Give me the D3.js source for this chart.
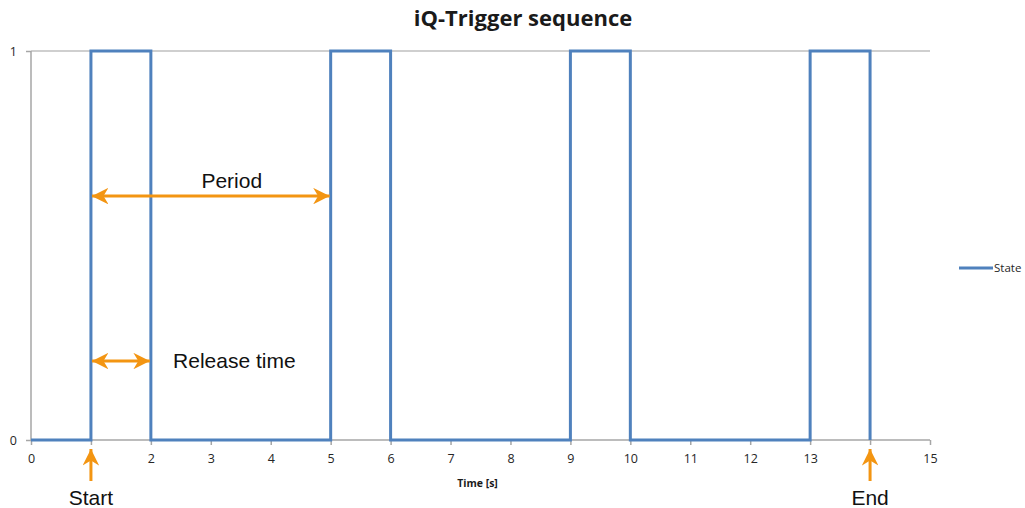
<!DOCTYPE html>
<html>
<head>
<meta charset="utf-8">
<script src="https://cdn.jsdelivr.net/npm/d3@7"></script>
<style>
  body { margin: 0; background: #fff; }
  svg { display: block; }
</style>
</head>
<body>
<div id="chart"></div>
<script>
// step series: time [s] and state
const times = [0, 1, 1, 2, 2, 5, 5, 6, 6, 9, 9, 10, 10, 13, 13, 14, 14];
const states = [0, 0, 1, 1, 0, 0, 1, 1, 0, 0, 1, 1, 0, 0, 1, 1, 0];
const xTicks = d3.range(0, 16);
const yTicks = [0, 1];
const seriesName = "State";

// orange annotations (data units)
const spanArrows = [
  { from: 1, to: 5, level: 0.627, label: "Period", labelAt: 3.35, anchor: "middle" },
  { from: 1, to: 2, level: 0.203, label: "Release time", labelAt: 2.37, anchor: "start" }
];
const markerArrows = [
  { at: 1, label: "Start" },
  { at: 14, label: "End" }
];

const W = 1025, H = 508;
const margin = { top: 51, right: 95, bottom: 68, left: 31 };
const width = W - margin.left - margin.right;
const height = H - margin.top - margin.bottom;
const orange = "#f39512";
const blue = "#4f81bd";
const axisFont = "Open Sans, sans-serif";
const noteFont = "Liberation Sans, Arial, sans-serif";

const svg = d3.select("#chart").append("svg")
  .attr("width", W).attr("height", H);

svg.append("defs").append("marker")
  .attr("id", "head")
  .attr("viewBox", "0 0 10 10")
  .attr("refX", 10).attr("refY", 5)
  .attr("markerWidth", 5.5).attr("markerHeight", 5.5)
  .attr("markerUnits", "strokeWidth")
  .attr("orient", "auto-start-reverse")
  .append("path")
  .attr("d", "M0,0 L10,5 L0,10 L3,5 Z")
  .attr("fill", orange);

const g = svg.append("g")
  .attr("transform", `translate(${margin.left},${margin.top})`);

const x = d3.scaleLinear().domain([0, 15]).range([0, width]);
const y = d3.scaleLinear().domain([0, 1]).range([height, 0]);

// gridline at 1
g.append("g")
  .selectAll("line")
  .data(yTicks.filter(d => d > 0))
  .join("line")
  .attr("x1", 0).attr("x2", width)
  .attr("y1", d => y(d)).attr("y2", d => y(d))
  .attr("stroke", "#bfbfbf").attr("stroke-width", 1.5);

// y axis
const yAxis = g.append("g")
  .call(d3.axisLeft(y).tickValues(yTicks).tickSize(5).tickPadding(9).tickFormat(d3.format("d")));
yAxis.selectAll("line, path").attr("stroke", "#a6a6a6").attr("stroke-width", 1.5);
yAxis.select(".domain").attr("d", `M0,${height}V0`);
yAxis.selectAll("text").attr("font-family", axisFont).attr("font-size", 12.5).attr("fill", "#262626");

// x axis (labels under the Start/End arrows are covered in the original)
const covered = markerArrows.map(a => a.at);
const xAxis = g.append("g")
  .attr("transform", `translate(0,${height})`)
  .call(d3.axisBottom(x).tickValues(xTicks).tickSize(5).tickPadding(9)
    .tickFormat(d => covered.includes(d) ? "" : d3.format("d")(d)));
xAxis.selectAll("line, path").attr("stroke", "#a6a6a6").attr("stroke-width", 1.5);
xAxis.select(".domain").attr("d", `M0,0H${width}`);
xAxis.selectAll("text").attr("font-family", axisFont).attr("font-size", 12.5).attr("fill", "#262626");

// series
const line = d3.line()
  .x((d, i) => x(times[i]))
  .y(d => y(d));
g.append("path")
  .datum(states)
  .attr("d", line)
  .attr("fill", "none")
  .attr("stroke", blue)
  .attr("stroke-width", 3);

// title and axis title
svg.append("text")
  .attr("x", 523).attr("y", 26)
  .attr("text-anchor", "middle")
  .attr("font-family", axisFont).attr("font-weight", "bold").attr("font-size", 22)
  .attr("fill", "#1a1a1a")
  .text("iQ-Trigger sequence");

svg.append("text")
  .attr("x", margin.left + x(7.45)).attr("y", 487)
  .attr("text-anchor", "middle")
  .attr("font-family", axisFont).attr("font-weight", "bold").attr("font-size", 10.5)
  .attr("fill", "#1a1a1a")
  .text("Time [s]");

// legend
const lg = svg.append("g").attr("transform", "translate(959,268)");
lg.append("line").attr("x1", 0).attr("x2", 34).attr("y1", 0).attr("y2", 0)
  .attr("stroke", blue).attr("stroke-width", 3);
lg.append("text").attr("x", 35).attr("y", 4)
  .attr("font-family", axisFont).attr("font-size", 11.5).attr("fill", "#262626")
  .text(seriesName);

// span arrows
spanArrows.forEach(a => {
  g.append("line")
    .attr("x1", x(a.from) + 1).attr("x2", x(a.to) - 1)
    .attr("y1", y(a.level)).attr("y2", y(a.level))
    .attr("stroke", orange).attr("stroke-width", 3)
    .attr("marker-start", "url(#head)").attr("marker-end", "url(#head)");
  g.append("text")
    .attr("x", x(a.labelAt)).attr("y", y(a.level) - (a.anchor === "middle" ? 8 : -7))
    .attr("text-anchor", a.anchor)
    .attr("font-family", noteFont).attr("font-size", 21).attr("fill", "#111")
    .text(a.label);
});

// start / end markers
markerArrows.forEach(a => {
  g.append("line")
    .attr("x1", x(a.at)).attr("x2", x(a.at))
    .attr("y1", height + 41).attr("y2", height + 9)
    .attr("stroke", orange).attr("stroke-width", 3)
    .attr("marker-end", "url(#head)");
  g.append("text")
    .attr("x", x(a.at)).attr("y", height + 65)
    .attr("text-anchor", "middle")
    .attr("font-family", noteFont).attr("font-size", 21).attr("fill", "#111")
    .text(a.label);
});
</script>
</body>
</html>
